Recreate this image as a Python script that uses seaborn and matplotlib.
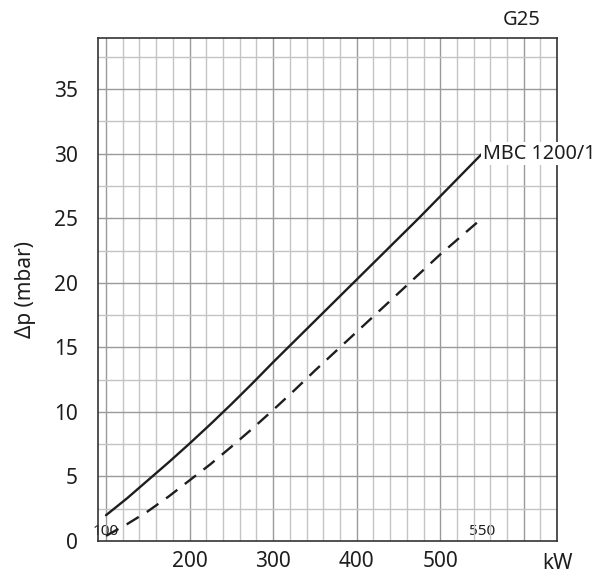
import matplotlib
matplotlib.use("Agg")
import numpy as np
import pandas as pd
import matplotlib.pyplot as plt
import seaborn as sns

# values
kw = [100, 125, 150, 175, 200, 225, 250, 275, 300, 325,
      350, 375, 400, 425, 450, 475, 500, 525, 550]
dp_solid = [2.0, 3.3, 4.7, 6.1, 7.55, 9.05, 10.6, 12.2, 13.85, 15.45,
            17.05, 18.65, 20.25, 21.85, 23.45, 25.05, 26.7, 28.35, 30.0]
dp_dashed = [0.4, 1.3, 2.3, 3.45, 4.7, 5.95, 7.3, 8.7, 10.15, 11.65,
             13.2, 14.7, 16.2, 17.7, 19.2, 20.7, 22.2, 23.6, 25.0]
model_label = "MBC 1200/1"
gas_label = "G25"
y_ticks = [0, 5, 10, 15, 20, 25, 30, 35]
x_ticks = [100, 200, 300, 400, 500]
x_tick_labels = ["", "200", "300", "400", "500"]
range_ticks = [100, 550]
range_labels = ["100", "550"]

sns.set_style("white")
plt.rcParams['font.family'] = ['Noto Sans', 'DejaVu Sans']

ink = "#1e1e1e"
df = pd.DataFrame({"kW": kw, "solid": dp_solid, "dashed": dp_dashed})

fig = plt.figure(figsize=(6.03, 5.78), dpi=100)
ax = fig.add_axes([0.162, 0.064, 0.762, 0.871])

# background grid: 20 kW / 2.5 mbar
for gx in np.arange(100, 640, 20):
    c = "#9a9a9a" if gx % 100 == 0 else "#c4c4c4"
    ax.axvline(gx, color=c, lw=1.0, zorder=1)
for gy in np.arange(2.5, 39, 2.5):
    c = "#9a9a9a" if gy % 5 == 0 else "#c4c4c4"
    ax.axhline(gy, color=c, lw=1.0, zorder=1)

sns.lineplot(data=df, x="kW", y="solid", ax=ax, color=ink, lw=1.7, zorder=3)
sns.lineplot(data=df, x="kW", y="dashed", ax=ax, color=ink, lw=1.7,
             linestyle=(0, (6, 4)), zorder=3)

ax.set_xlim(90, 640)
ax.set_ylim(0, 39)

ax.xaxis.remove_overlapping_locs = False
ax.set_xticks(x_ticks)
ax.set_xticklabels(x_tick_labels)
ax.set_xticks(range_ticks, minor=True)
ax.set_xticklabels(range_labels, minor=True)
ax.set_yticks(y_ticks)

ax.tick_params(axis='x', which='major', direction='inout', length=10, width=1,
               color="#333333", labelsize=15, pad=2, labelcolor=ink)
ax.tick_params(axis='x', which='minor', direction='out', length=9, width=1,
               color="#333333", labelsize=11, pad=-21.5, labelcolor=ink)
ax.tick_params(axis='y', direction='inout', length=14.5, width=1,
               color="#333333", labelsize=15, pad=7, labelcolor=ink)

for s in ax.spines.values():
    s.set_visible(True)
    s.set_color("#333333")
    s.set_linewidth(1.2)

ax.set_xlabel("")
ax.set_ylabel("Δp (mbar)", fontsize=15, color=ink)
ax.yaxis.set_label_coords(-0.135, 0.5)

ax.text(1.0, -0.024, "kW", transform=ax.transAxes, ha='center', va='top',
        fontsize=15, color=ink)
fig.text(521.7 / 603, 1 - 19.7 / 578, gas_label, ha='center', va='center',
         fontsize=14.5, color=ink)
ax.text(kw[-1] + 1, dp_solid[-1], model_label, ha='left', va='center',
        fontsize=14.3, color=ink, zorder=5, clip_on=False,
        bbox=dict(fc='white', ec='none', pad=1))

fig.savefig("out.png", dpi=100)
